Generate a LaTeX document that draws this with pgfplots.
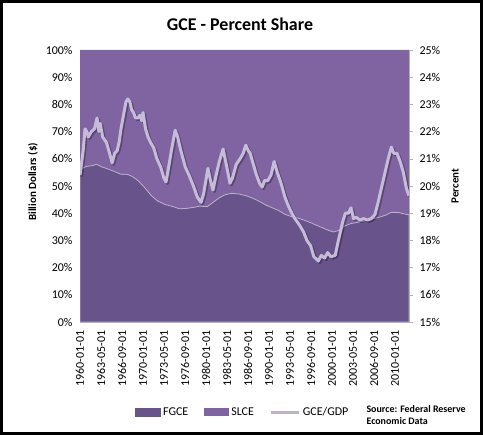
\documentclass[border=0pt]{standalone}
\usepackage{pgfplots}
\pgfplotsset{compat=1.18}
\usepackage{pgfplotstable}
\usepackage{fontspec}
\setmainfont{Carlito}
\definecolor{slce}{RGB}{128,100,162}
\definecolor{fgce}{RGB}{104,84,138}
\definecolor{gline}{RGB}{198,188,218}

\pgfplotstableread{
year fgce slce
1960.0 55.5 44.5
1960.4 56.5 43.5
1961.0 57.2 42.8
1962.0 57.5 42.5
1962.6 58.0 42.0
1963.5 57.0 43.0
1964.5 56.2 43.8
1965.5 55.3 44.7
1966.5 54.3 45.7
1967.5 54.3 45.7
1968.3 53.5 46.5
1969.3 51.8 48.2
1970.3 49.3 50.7
1971.3 46.5 53.5
1972.3 44.5 55.5
1973.5 43.2 56.8
1974.5 42.6 57.4
1975.8 41.6 58.4
1977.0 41.8 58.2
1978.2 42.2 57.8
1979.0 42.6 57.4
1980.2 42.4 57.6
1981.0 43.8 56.2
1982.0 45.5 54.5
1983.0 46.8 53.2
1984.0 47.3 52.7
1985.4 47.0 53.0
1986.5 46.3 53.7
1987.5 45.4 54.6
1988.5 44.3 55.7
1989.5 43.0 57.0
1990.5 42.0 58.0
1991.5 41.0 59.0
1992.5 39.6 60.4
1993.5 38.8 61.2
1994.6 38.2 61.8
1995.5 37.5 62.5
1996.5 36.6 63.4
1997.5 35.6 64.4
1998.3 34.8 65.2
1999.3 33.8 66.2
2000.2 33.1 66.9
2001.0 33.6 66.4
2002.0 35.3 64.7
2003.0 36.2 63.8
2004.4 36.8 63.2
2005.5 37.3 62.7
2006.5 38.0 62.0
2007.6 38.6 61.4
2008.5 39.3 60.7
2009.4 40.3 59.7
2010.5 40.3 59.7
2011.3 39.8 60.2
2012.2 39.4 60.6
}\sharedata

\pgfplotstableread{
year gdp
1960.0 20.4
1960.5 21.3
1960.8 22.1
1961.1 22.0
1961.3 21.8
1961.8 22.0
1962.3 22.1
1962.7 22.5
1963.0 22.0
1963.2 22.3
1963.6 21.8
1964.2 21.6
1964.7 21.2
1965.1 20.85
1965.5 21.2
1965.9 21.3
1966.2 21.6
1966.5 22.1
1966.9 22.6
1967.3 23.1
1967.6 23.2
1967.9 23.1
1968.2 22.8
1968.5 22.7
1968.8 22.5
1969.2 22.5
1969.5 22.6
1969.8 22.4
1970.0 22.7
1970.4 22.1
1970.8 21.8
1971.2 21.6
1971.7 21.4
1972.2 21.0
1972.8 20.7
1973.3 20.3
1973.65 20.15
1974.0 20.6
1974.5 21.3
1975.1 22.05
1975.5 21.8
1976.0 21.3
1976.7 20.7
1977.3 20.4
1978.0 20.0
1978.6 19.6
1979.2 19.4
1979.6 19.7
1980.3 20.65
1980.7 20.2
1981.1 19.85
1981.6 20.4
1982.1 20.9
1982.7 21.36
1983.2 20.8
1983.8 20.1
1984.2 20.3
1984.8 20.8
1985.4 21.0
1985.9 21.2
1986.3 21.5
1986.7 21.3
1987.0 21.2
1987.5 20.8
1988.0 20.4
1988.5 20.1
1988.9 19.96
1989.3 20.2
1989.8 20.2
1990.3 20.4
1990.8 20.9
1991.3 20.5
1991.9 20.1
1992.5 19.6
1993.0 19.3
1993.6 19.0
1994.1 18.8
1994.6 18.64
1995.0 18.5
1995.5 18.3
1996.0 18.0
1996.6 17.8
1997.1 17.4
1997.8 17.24
1998.3 17.45
1998.8 17.35
1999.3 17.55
1999.8 17.4
2000.5 17.45
2000.9 17.9
2001.3 18.3
2001.7 18.7
2002.1 19.0
2002.6 19.0
2003.0 19.2
2003.4 18.8
2003.8 18.85
2004.4 18.75
2005.0 18.8
2005.6 18.75
2006.2 18.8
2006.8 18.95
2007.3 19.4
2007.9 20.0
2008.4 20.5
2008.9 21.0
2009.4 21.43
2009.8 21.2
2010.3 21.2
2010.8 20.9
2011.3 20.5
2011.8 19.9
2012.2 19.65
}\gdpdata

\begin{document}
\begin{tikzpicture}
\draw[line width=3bp] (1.5bp,1.5bp) rectangle (481.5bp,433.5bp);
\node[font=\bfseries\fontsize{18}{20}\selectfont] at (240bp,411bp) {GCE - Percent Share};
\node[anchor=west, align=left, font=\bfseries\fontsize{10}{12.5}\selectfont] at (363bp,20bp) {Source: Federal Reserve\\Economic Data};

\begin{axis}[
  at={(80bp,113bp)}, anchor=south west,
  width=329bp, height=272bp, scale only axis,
  xmin=1960, xmax=2012.2, ymin=0, ymax=100,
  stack plots=y,
  /pgf/number format/assume math mode=true,
  xtick={1960,1963.3333,1966.6667,1970,1973.3333,1976.6667,1980,1983.3333,1986.6667,1990,1993.3333,1996.6667,2000,2003.3333,2006.6667,2010},
  xticklabels={1960-01-01,1963-05-01,1966-09-01,1970-01-01,1973-05-01,1976-09-01,1980-01-01,1983-05-01,1986-09-01,1990-01-01,1993-05-01,1996-09-01,2000-01-01,2003-05-01,2006-09-01,2010-01-01},
  xticklabel style={rotate=90, anchor=east, font=\fontsize{12}{14}\selectfont},
  xticklabel shift=5bp,
  ytick={0,10,...,100},
  yticklabel={\pgfmathprintnumber{\tick}\%},
  yticklabel style={font=\fontsize{12}{14}\selectfont},
  yticklabel shift=4bp,
  major tick length=0pt,
  axis line style={draw=gray!60},
  ylabel={Billion Dollars (\$)},
  ylabel style={at={(axis description cs:-0.143,0.515)}, anchor=center, font=\bfseries\fontsize{11}{13}\selectfont},
  legend style={at={(axis description cs:0.495,-0.331)}, anchor=center, draw=none, fill=none,
    font=\fontsize{12}{14}\selectfont,
    /tikz/every even column/.append style={column sep=14bp}},
  legend columns=3,
]
\addplot[fill=fgce, draw=white!55!fgce, line width=0.8bp,
  legend image code/.code={\fill[fgce] (0bp,-4bp) rectangle (25bp,4bp);}]
  table[x=year,y=fgce] {\sharedata} \closedcycle;
\addlegendentry{FGCE}
\addplot[fill=slce, draw=none,
  legend image code/.code={\fill[slce] (0bp,-4bp) rectangle (25bp,4bp);}]
  table[x=year,y=slce] {\sharedata} \closedcycle;
\addlegendentry{SLCE}
\addlegendimage{legend image code/.code={\draw[gline!85!gray, line width=3bp] (0bp,0bp) -- (28bp,0bp);}}
\addlegendentry{GCE/GDP}
\end{axis}

\begin{axis}[
  at={(80bp,113bp)}, anchor=south west,
  width=329bp, height=272bp, scale only axis,
  xmin=1960, xmax=2012.2, ymin=15, ymax=25,
  axis y line*=right, axis x line=none,
  /pgf/number format/assume math mode=true,
  ytick={15,16,...,25},
  yticklabel={\pgfmathprintnumber{\tick}\%},
  yticklabel style={font=\fontsize{12}{14}\selectfont},
  yticklabel shift=3bp,
  tick align=outside, major tick length=4bp,
  ytick style={draw=gray!60},
  axis line style={draw=gray!60},
  ylabel={Percent},
  ylabel style={at={(axis description cs:1.14,0.5)}, anchor=center, rotate=0, font=\bfseries\fontsize{11}{13}\selectfont},
]
\addplot[black, opacity=0.3, line width=3bp, line join=round, xshift=1.5bp, yshift=-1.5bp] table[x=year,y=gdp] {\gdpdata};
\addplot[gline, line width=3bp, line join=round] table[x=year,y=gdp] {\gdpdata};
\end{axis}
\end{tikzpicture}
\end{document}
